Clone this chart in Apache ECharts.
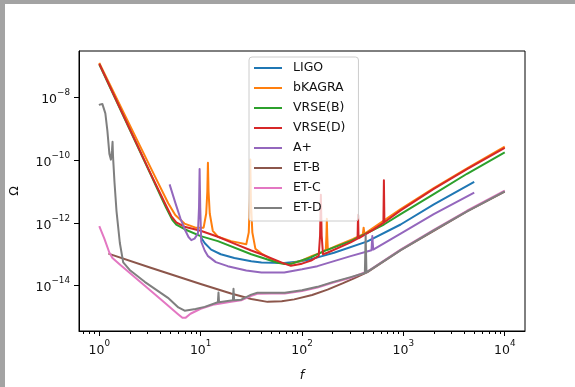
<!DOCTYPE html>
<html>
<head>
<meta charset="utf-8">
<script src="https://cdn.jsdelivr.net/npm/echarts@6/dist/echarts.min.js"></script>
<style>
  html, body { margin: 0; padding: 0; background: #fff; }
  #chart { width: 575px; height: 387px; }
</style>
</head>
<body>
<div id="chart"></div>
<script>
// detector sensitivity curves, [f (Hz), Omega]
const names = ['LIGO', 'bKAGRA', 'VRSE(B)', 'VRSE(D)', 'A+', 'ET-B', 'ET-C', 'ET-D']
const colors = ['#1f77b4', '#ff7f0e', '#2ca02c', '#d62728', '#9467bd', '#8c564b', '#e377c2', '#7f7f7f']

const ligo = [
  [10, 3.55e-13], [11.0, 2.24e-13], [12.7, 1.41e-13], [15.8, 1.0e-13], [21.5, 7.59e-14],
  [31.6, 6.03e-14], [39.8, 5.5e-14], [66.8, 5.25e-14], [100, 6.03e-14], [122, 6.92e-14],
  [158, 8.71e-14], [207, 1.12e-13], [442, 2.57e-13], [940, 8.91e-13], [2000, 3.89e-12], [5000, 2.04e-11]
]
const bkagra = [
  [1, 1.29e-7], [3.55, 3.02e-11], [4.79, 4.27e-12], [5.62, 1.78e-12], [6.92, 9.55e-13],
  [8.91, 7.08e-13], [10.7, 7.08e-13], [11.35, 2.0e-12], [11.64, 1.0e-11], [11.8, 8.32e-11],
  [11.97, 1.0e-11], [12.3, 2.0e-12], [13.18, 5.62e-13], [14.8, 3.63e-13], [20.0, 2.63e-13],
  [28.2, 2.09e-13], [29.85, 5.01e-13], [30.55, 5.01e-12], [30.9, 1.07e-10], [31.33, 5.01e-12],
  [32.36, 5.01e-13], [34.67, 1.51e-13], [39.8, 1.05e-13], [50.1, 6.92e-14], [61.7, 5.25e-14],
  [74.1, 4.79e-14], [100, 6.31e-14], [125.9, 8.91e-14], [158.5, 1.17e-13], [171.8, 1.41e-13],
  [174.2, 3.98e-13], [175.8, 1.35e-12], [177.4, 3.98e-13], [179.9, 1.41e-13], [223.9, 1.91e-13],
  [316, 3.02e-13], [398, 4.27e-13], [405.5, 7.08e-13], [413, 4.47e-13], [631, 1.15e-12],
  [940, 2.75e-12], [1995, 1.29e-11], [4246, 5.5e-11], [10000, 2.75e-10]
]
const vrseB = [
  [1, 1.17e-7], [3.27, 3.16e-11], [3.98, 7.94e-12], [4.57, 3.02e-12], [5.25, 1.26e-12],
  [5.75, 8.91e-13], [6.95, 6.31e-13], [10, 3.8e-13], [14.8, 2.63e-13], [31.6, 1.0e-13],
  [57.5, 5.37e-14], [67.6, 4.9e-14], [79.4, 5.01e-14], [122, 7.94e-14], [165, 1.26e-13],
  [207, 1.66e-13], [302, 2.63e-13], [442, 4.79e-13], [643, 8.91e-13], [940, 1.91e-12],
  [1995, 8.32e-12], [4246, 3.72e-11], [10000, 1.78e-10]
]
const vrseD = [
  [1, 1.2e-7], [3.27, 3.31e-11], [3.98, 8.91e-12], [4.57, 3.55e-12], [5.13, 1.66e-12],
  [5.75, 1.05e-12], [6.92, 7.59e-13], [10, 5.62e-13], [14.8, 3.63e-13], [21.5, 2.19e-13],
  [31.6, 1.32e-13], [39.8, 1.0e-13], [66.8, 5.01e-14], [77.6, 4.27e-14], [100, 5.01e-14],
  [123, 6.31e-14], [146.2, 8.91e-14], [150.7, 3.98e-13], [153.5, 7.94e-12], [156.3, 3.98e-13],
  [161.1, 1.0e-13], [177.8, 1.12e-13], [302, 2.4e-13], [353.2, 3.16e-13], [357.3, 1.82e-12],
  [361.4, 3.24e-13], [501, 6.03e-13], [635.3, 1.0e-12], [642.7, 2.29e-11], [650.1, 1.05e-12],
  [940, 2.51e-12], [1995, 1.23e-11], [4246, 5.25e-11], [10000, 2.51e-10]
]
const aPlus = [
  [4.94, 1.7e-11], [5.62, 4.47e-12], [6.31, 1.41e-12], [7.08, 5.62e-13], [7.59, 3.55e-13],
  [8.09, 2.82e-13], [8.71, 3.16e-13], [9.4, 4.57e-13], [9.64, 3.16e-12], [9.77, 5.25e-11],
  [9.91, 3.16e-12], [10.14, 2.51e-13], [10.96, 1.32e-13], [11.75, 8.91e-14], [14.13, 5.62e-14],
  [18.5, 4.17e-14], [28.2, 3.02e-14], [39.8, 2.63e-14], [66.8, 2.63e-14], [100, 3.31e-14],
  [142, 4.17e-14], [207, 6.03e-14], [302, 8.71e-14], [485, 1.35e-13], [494, 3.8e-13],
  [504, 1.41e-13], [940, 4.57e-13], [1995, 1.91e-12], [5000, 9.33e-12]
]
const etB = [
  [1.23, 1.05e-13], [3.16, 3.8e-14], [10, 1.12e-14], [19.95, 5.62e-15], [31.6, 3.72e-15],
  [45.7, 3.02e-15], [63.1, 3.16e-15], [83.8, 3.63e-15], [125.9, 5.01e-15], [178.6, 7.41e-15],
  [251, 1.17e-14], [326, 1.7e-14], [442, 2.69e-14], [940, 1.35e-13], [1995, 5.62e-13],
  [4246, 2.34e-12], [10000, 1.0e-11]
]
const etC = [
  [1, 7.94e-13], [1.122, 3.16e-13], [1.259, 1.12e-13], [1.349, 7.59e-14], [1.585, 4.79e-14],
  [2.512, 1.35e-14], [3.98, 3.8e-15], [6.03, 1.2e-15], [6.61, 9.33e-16], [7.08, 9.33e-16],
  [7.94, 1.26e-15], [10, 1.82e-15], [13.7, 2.51e-15], [19.95, 3.02e-15], [25.1, 3.39e-15],
  [31.6, 4.68e-15], [36.3, 5.5e-15], [50.1, 5.62e-15], [67.6, 5.62e-15], [100, 6.76e-15],
  [142, 8.71e-15], [200, 1.23e-14], [302, 1.78e-14], [442, 2.82e-14], [940, 1.41e-13],
  [1995, 6.03e-13], [4246, 2.45e-12], [10000, 1.07e-11]
]
const etD = [
  [0.99, 5.89e-9], [1.072, 6.31e-9], [1.148, 3.16e-9], [1.202, 8.91e-10], [1.259, 1.58e-10],
  [1.303, 1.05e-10], [1.334, 2.0e-10], [1.352, 3.89e-10], [1.368, 1.26e-10], [1.413, 2.0e-11],
  [1.479, 2.4e-12], [1.596, 2.29e-13], [1.722, 5.5e-14], [1.995, 3.16e-14], [2.805, 1.32e-14],
  [4.76, 4.07e-15], [6.03, 2.0e-15], [6.95, 1.58e-15], [8.91, 1.78e-15], [10.96, 2.09e-15],
  [14.79, 2.95e-15], [15.0, 6.03e-15], [15.2, 2.95e-15], [20.8, 3.39e-15], [21.1, 7.94e-15],
  [21.4, 3.39e-15], [25.1, 3.55e-15], [31.6, 5.13e-15], [36.3, 5.89e-15], [50.1, 5.89e-15],
  [67.6, 5.89e-15], [100, 7.08e-15], [142, 9.12e-15], [200, 1.29e-14], [302, 1.86e-14],
  [417, 2.51e-14], [424.6, 4.07e-13], [432.5, 2.63e-14], [940, 1.35e-13], [1995, 5.75e-13],
  [4246, 2.34e-12], [10000, 1.02e-11]
]
const curves = [ligo, bkagra, vrseB, vrseD, aPlus, etB, etC, etD]

const xTicks = [1, 10, 100, 1000, 10000]
const yTicks = [1e-14, 1e-12, 1e-10, 1e-8]
// minor ticks of the log f axis (2..9 of every decade)
const xMinor = [0.7, 0.8, 0.9]
for (let d = 1; d <= 1000; d *= 10) {
  for (let m = 2; m <= 9; m++) xMinor.push(m * d)
}

const font = 'DejaVu Sans'
const rich = {
  b: { fontSize: 12.5, lineHeight: 18, verticalAlign: 'bottom', color: '#111', fontFamily: font },
  s: { fontSize: 8.8, lineHeight: 9, verticalAlign: 'top', color: '#111', fontFamily: font }
}
function powLabel(v) {
  const e = Math.round(Math.log10(v))
  return '{b|10}{s|' + String(e).replace('-', '\u2212') + '}'
}

const xMin = Math.pow(10, -0.2)
const xMax = Math.pow(10, 4.2)

const chart = echarts.init(document.getElementById('chart'), null, { renderer: 'canvas' })
chart.setOption({
  animation: false,
  backgroundColor: '#fff',
  graphic: [
    { type: 'rect', silent: true, shape: { x: 0, y: 0, width: 575, height: 4 }, style: { fill: '#a3a3a3' } },
    { type: 'rect', silent: true, shape: { x: 0, y: 0, width: 5, height: 387 }, style: { fill: '#a3a3a3' } }
  ],
  grid: {
    left: 78, top: 51, width: 447, height: 290,
    show: true, borderColor: '#000', borderWidth: 1, backgroundColor: 'transparent'
  },
  legend: {
    data: names,
    orient: 'vertical',
    left: 249, top: 57,
    itemWidth: 28, itemHeight: 2, itemGap: 6,
    icon: 'rect',
    padding: [4, 13, 6, 5],
    backgroundColor: 'rgba(255,255,255,0.8)',
    borderColor: '#cccccc', borderWidth: 1, borderRadius: 3,
    selectedMode: false,
    textStyle: { fontSize: 12.5, lineHeight: 14, color: '#111', fontFamily: font, padding: [0, 0, 0, 6] }
  },
  xAxis: [
    {
      type: 'log', logBase: 10, min: xMin, max: xMax, position: 'bottom',
      name: 'f', nameLocation: 'middle', nameGap: 38, nameMoveOverlap: false,
      nameTextStyle: { fontSize: 12.5, fontStyle: 'italic', color: '#111', fontFamily: font },
      axisLine: { show: true, lineStyle: { color: '#000', width: 1 } },
      axisTick: { show: true, customValues: xTicks, length: 5, lineStyle: { color: '#000', width: 1 } },
      axisLabel: { customValues: xTicks, formatter: powLabel, rich: rich, margin: 8 },
      splitLine: { show: false }, minorTick: { show: false }
    },
    {
      type: 'log', logBase: 10, min: xMin, max: xMax, position: 'bottom',
      axisLine: { show: false },
      axisTick: { show: true, customValues: xMinor, length: 3, lineStyle: { color: '#000', width: 1 } },
      axisLabel: { show: false },
      splitLine: { show: false }
    }
  ],
  yAxis: {
    type: 'log', logBase: 10, min: Math.pow(10, -15.45), max: Math.pow(10, -6.51),
    name: 'Ω', nameLocation: 'middle', nameGap: 58, nameMoveOverlap: false,
    nameTextStyle: { fontSize: 12.5, color: '#111', fontFamily: font },
    axisLine: { show: true, lineStyle: { color: '#000', width: 1 } },
    axisTick: { show: true, customValues: yTicks, length: 5, lineStyle: { color: '#000', width: 1 } },
    axisLabel: { customValues: yTicks, formatter: powLabel, rich: rich, margin: 9 },
    splitLine: { show: false }, minorTick: { show: false }
  },
  series: curves.map((d, i) => ({
    name: names[i],
    type: 'line',
    data: d,
    showSymbol: false,
    symbol: 'none',
    silent: true,
    emphasis: { disabled: true },
    itemStyle: { color: colors[i] },
    lineStyle: { color: colors[i], width: 2, join: 'round' }
  }))
})
</script>
</body>
</html>
